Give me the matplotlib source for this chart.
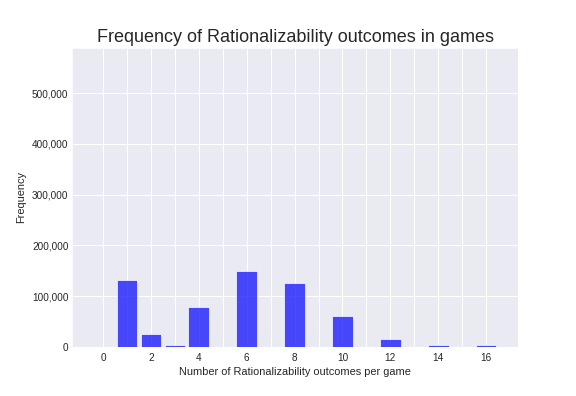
import matplotlib
matplotlib.use("Agg")
import matplotlib.pyplot as plt
import matplotlib.ticker as mticker
import seaborn as sns

outcomes = list(range(0, 17))
frequencies = [0, 132000, 24700, 3000, 78700, 0, 150000, 0, 126000, 0,
               60500, 0, 16500, 0, 4500, 0, 3000]
xtick_vals = [0, 2, 4, 6, 8, 10, 12, 14, 16]

sns.set_style("darkgrid")
plt.rcParams['font.family'] = ['Liberation Sans', 'DejaVu Sans']

fig, ax = plt.subplots(figsize=(8, 5.5), dpi=72)
fig.subplots_adjust(left=0.125, right=0.9, top=0.88, bottom=0.124)
ax.bar(outcomes, frequencies, width=0.87, color='blue', alpha=0.7)
ax.set_xticks(xtick_vals)
ax.xaxis.set_minor_locator(mticker.FixedLocator(outcomes))
ax.grid(True, which='both', color='white', linewidth=1)
ax.tick_params(which='both', length=0, labelsize=10, colors='#262626')
ax.tick_params(axis='x', pad=6)
ax.set_xlim(-1.3, 17.35)
ax.set_ylim(0, 590000)
ax.yaxis.set_major_formatter(mticker.FuncFormatter(lambda v, p: f"{int(v):,}"))
ax.set_title("Frequency of Rationalizability outcomes in games", fontsize=18, color='#262626')
ax.set_xlabel("Number of Rationalizability outcomes per game", fontsize=11, color='#262626')
ax.set_ylabel("Frequency", fontsize=11, color='#262626', labelpad=6)
fig.savefig("out.png", dpi=72)
